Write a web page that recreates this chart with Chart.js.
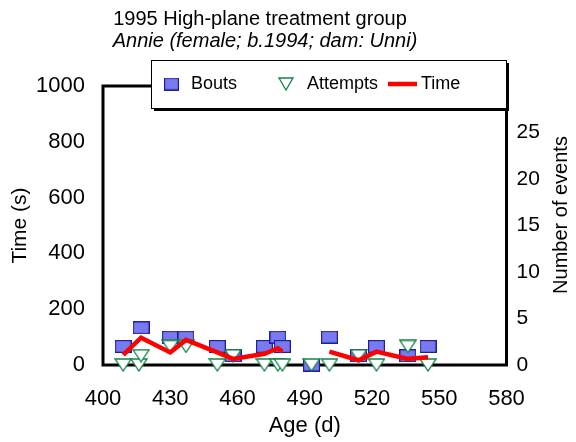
<!DOCTYPE html>
<html>
<head>
<meta charset="utf-8">
<script src="https://cdn.jsdelivr.net/npm/chart.js@4"></script>
<style>
    html, body { margin: 0; padding: 0; background: #fff; }
</style>
</head>
<body>
<canvas id="chart" width="576" height="442"></canvas>
<script>
// values
const boutDays = [409, 417, 430, 437, 451, 458, 472, 478, 480, 493, 501, 514, 522, 536, 545];
const bouts = [2, 4, 3, 3, 2, 1, 2, 3, 2, 0, 3, 1, 2, 1, 2];
const attemptDays = [409, 416, 417, 430, 437, 451, 458, 472, 478, 480, 493, 501, 514, 522, 536, 545];
const attempts = [0, 0, 1, 2, 2, 0, 1, 0, 0, 0, 0, 0, 1, 0, 2, 0];
const timeDays = [409, 417, 430, 437, 451, 458, 472, 478, 480, 493, 501, 514, 522, 536, 545];
const timeSecs = [36, 98, 45, 90, 45, 22, 40, 60, 48, null, 48, 17, 48, 22, 28];

const ageTicks = [400, 430, 460, 490, 520, 550, 580];
const timeTicks = [0, 200, 400, 600, 800, 1000];
const eventTicks = [0, 5, 10, 15, 20, 25];

const titleText = '1995 High-plane treatment group';
const subtitleText = 'Annie (female; b.1994; dam: Unni)';
const legendLabels = ['Bouts', 'Attempts', 'Time'];
const eventsTitle = 'Number of events';

const FONT = "'Liberation Sans', Arial, sans-serif";
const boutFill = 'rgb(122,122,240)';
const boutEdge = 'rgb(30,30,150)';
const attemptEdge = 'rgb(20,130,70)';
const timeColour = '#ff0000';

// markers in the original are a bit wider than tall, so build them by hand
function makeRect(w, h) {
    const c = document.createElement('canvas');
    c.width = w; c.height = h;
    const g = c.getContext('2d');
    g.fillStyle = boutFill;
    g.fillRect(0, 0, w, h);
    g.strokeStyle = boutEdge;
    g.lineWidth = 1.2;
    g.strokeRect(0.6, 0.6, w - 1.2, h - 1.2);
    return c;
}

function makeTriangle(w, h) {
    const c = document.createElement('canvas');
    c.width = w; c.height = h;
    const g = c.getContext('2d');
    g.beginPath();
    g.moveTo(1, 1);
    g.lineTo(w - 1, 1);
    g.lineTo(w / 2, h - 1);
    g.closePath();
    g.fillStyle = '#fff';
    g.fill();
    g.strokeStyle = attemptEdge;
    g.lineWidth = 1.3;
    g.stroke();
    return c;
}

const rectMarker = makeRect(17, 13);
const triMarker = makeTriangle(18, 14);

// black box round the plot area, under the markers
const framePlugin = {
    id: 'frame',
    beforeDatasetsDraw(chart) {
        const { ctx, chartArea: a } = chart;
        ctx.save();
        ctx.strokeStyle = '#000';
        ctx.lineWidth = 3;
        ctx.strokeRect(a.left, a.top, a.right - a.left, a.bottom - a.top);
        ctx.restore();
    }
};

// titles, right axis title (reads upwards) and the boxed legend drawn on top
const overlayPlugin = {
    id: 'overlay',
    afterDraw(chart) {
        const ctx = chart.ctx;
        ctx.save();
        ctx.fillStyle = '#000';
        ctx.textAlign = 'center';
        ctx.textBaseline = 'middle';
        ctx.font = `20px ${FONT}`;
        ctx.fillText(titleText, 260, 19);
        ctx.font = `italic 20px ${FONT}`;
        ctx.fillText(subtitleText, 265, 41);

        ctx.save();
        ctx.translate(561, 215);
        ctx.rotate(-Math.PI / 2);
        ctx.font = `20px ${FONT}`;
        ctx.fillText(eventsTitle, 0, 0);
        ctx.restore();

        // legend box with drop shadow
        const bx = 151, by = 60, bw = 355, bh = 48;
        ctx.fillStyle = '#000';
        ctx.fillRect(bx + 3, by + 3, bw, bh);
        ctx.fillStyle = '#fff';
        ctx.fillRect(bx, by, bw, bh);
        ctx.strokeStyle = '#000';
        ctx.lineWidth = 1;
        ctx.strokeRect(bx + 0.5, by + 0.5, bw, bh);

        const cy = 84;
        ctx.drawImage(makeRect(15, 13), 164, cy - 6.5);
        ctx.drawImage(makeTriangle(16, 14), 278, cy - 7);
        ctx.strokeStyle = timeColour;
        ctx.lineWidth = 4.5;
        ctx.beginPath();
        ctx.moveTo(388, cy);
        ctx.lineTo(417, cy);
        ctx.stroke();

        ctx.fillStyle = '#000';
        ctx.textAlign = 'left';
        ctx.font = `18px ${FONT}`;
        ctx.fillText(legendLabels[0], 191, cy);
        ctx.fillText(legendLabels[1], 307, cy);
        ctx.fillText(legendLabels[2], 421, cy);
        ctx.restore();
    }
};

Chart.defaults.color = '#000';
Chart.defaults.font.family = FONT;

const plainLabel = v => String(v);

const ctx = document.getElementById('chart').getContext('2d');
new Chart(ctx, {
    type: 'scatter',
    data: {
        datasets: [
            {
                label: legendLabels[2],
                type: 'line',
                data: timeDays.map((d, i) => ({ x: d, y: timeSecs[i] })),
                yAxisID: 'y',
                borderColor: timeColour,
                borderWidth: 4.5,
                pointRadius: 0,
                tension: 0,
                spanGaps: false,
                clip: false,
                order: 0,
            },
            {
                label: legendLabels[1],
                data: attemptDays.map((d, i) => ({ x: d, y: attempts[i] })),
                yAxisID: 'y2',
                pointStyle: triMarker,
                clip: false,
                order: 1,
            },
            {
                label: legendLabels[0],
                data: boutDays.map((d, i) => ({ x: d, y: bouts[i] })),
                yAxisID: 'y2',
                pointStyle: rectMarker,
                clip: false,
                order: 2,
            },
        ],
    },
    options: {
        responsive: false,
        animation: false,
        devicePixelRatio: 1,
        layout: { padding: { top: 86, left: 0, right: 0, bottom: 0 } },
        scales: {
            x: {
                type: 'linear',
                min: 400,
                max: 580,
                afterBuildTicks: s => { s.ticks = ageTicks.map(v => ({ value: v })); },
                afterFit: s => { s.height = 77; },
                grid: { display: false, drawTicks: false },
                border: { display: false },
                ticks: { font: { size: 22 }, padding: 21, maxRotation: 0, callback: plainLabel },
                title: { display: true, text: 'Age (d)', font: { size: 22 }, padding: { bottom: 3 } },
            },
            y: {
                position: 'left',
                min: 0,
                max: 1000,
                afterBuildTicks: s => { s.ticks = timeTicks.map(v => ({ value: v })); },
                afterFit: s => { s.width = 103; },
                grid: { display: false, drawTicks: false },
                border: { display: false },
                ticks: { font: { size: 22 }, padding: 18, callback: plainLabel },
                title: { display: true, text: 'Time (s)', font: { size: 21 }, padding: { top: 8 } },
            },
            y2: {
                position: 'right',
                min: 0,
                max: 30,
                afterBuildTicks: s => { s.ticks = eventTicks.map(v => ({ value: v })); },
                afterFit: s => { s.width = 69.5; },
                grid: { display: false, drawTicks: false },
                border: { display: false },
                ticks: { font: { size: 21 }, padding: 10, callback: plainLabel },
                title: { display: false },
            },
        },
        plugins: {
            legend: { display: false },
            tooltip: { enabled: false },
        },
    },
    plugins: [framePlugin, overlayPlugin],
});
</script>
</body>
</html>
